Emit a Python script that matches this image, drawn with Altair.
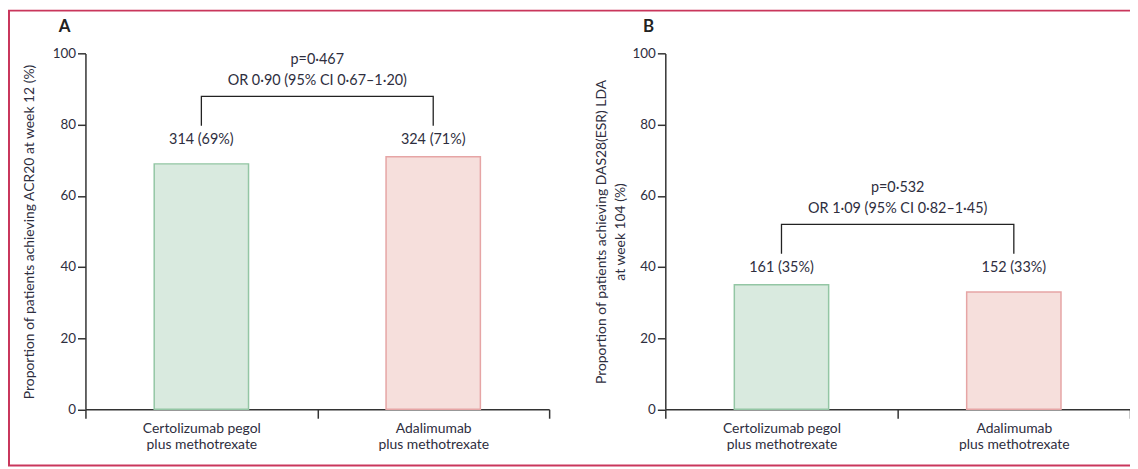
import altair as alt
import pandas as pd

# ---------------- data ----------------
categories = ["Certolizumab pegol\nplus methotrexate", "Adalimumab\nplus methotrexate"]
a_values = [69, 71]
b_values = [35, 33]
a_labels = ["314 (69%)", "324 (71%)"]
b_labels = ["161 (35%)", "152 (33%)"]
a_stats = ["p=0·467", "OR 0·90 (95% CI 0·67–1·20)"]
b_stats = ["p=0·532", "OR 1·09 (95% CI 0·82–1·45)"]
y_ticks = [0, 20, 40, 60, 80, 100]
a_title = "Proportion of patients achieving ACR20 at week 12 (%)"
b_title = ["Proportion of patients achieving DAS28(ESR) LDA", "at week 104 (%)"]

# ---------------- style ----------------
FONT = "Lato"
TXT = "#2e2e3e"
AX = "#333333"
FILLS = ["#d9eadf", "#f6dfdc"]
STROKES = ["#93c6a4", "#e6a5a5"]
BORDER = "#c9365c"
W, H = 1130, 461
Y_RANGE = [402.5, 44.3]
ANN_SIZE = 14.5


def make_panel(values, labels, stats, ytitle, x_range, title_x, letter, letter_x):
    top_leg = max(values) + 8.7
    top = top_leg + 8.3
    df = pd.DataFrame({"cat": categories, "value": values, "label": labels})
    df["ly"] = top_leg - 4.0
    br = pd.DataFrame({
        "cat": [categories[0], categories[0], categories[1], categories[1]],
        "value": [top_leg, top, top, top_leg],
        "o": [0, 1, 2, 3],
    })
    st = pd.DataFrame({"cat": [categories[1], categories[1]],
                       "value": [top + 10.3, top + 4.3],
                       "t": stats})

    xscale = alt.Scale(domain=categories, range=x_range, paddingInner=0, paddingOuter=0)
    yscale = alt.Scale(domain=[0, 100], range=Y_RANGE)
    xaxis = alt.Axis(orient="bottom", offset=-(H - Y_RANGE[0]), tickBand="extent",
                     tickSize=9, tickWidth=1.5, tickColor=AX, domainColor=AX, domainWidth=1.5,
                     labelExpr="split(datum.label, '\\n')", labelAngle=0,
                     labelFont=FONT, labelFontSize=14, labelColor=TXT, labelLineHeight=17,
                     labelPadding=3, title=None, grid=False)
    yaxis = alt.Axis(orient="left", offset=-(x_range[0]), values=y_ticks, tickSize=8,
                     tickWidth=1.5, tickColor=AX, domainColor=AX, domainWidth=1.5,
                     labelFont=FONT, labelFontSize=13.5, labelColor=TXT, labelPadding=2,
                     grid=False, title=ytitle, titleX=title_x, titleAngle=-90,
                     titleBaseline="middle", titleFont=FONT, titleFontSize=14,
                     titleFontWeight="normal", titleColor=TXT, titleLineHeight=19)

    def X(band=0.5):
        return alt.X("cat:N", scale=xscale, axis=xaxis, bandPosition=band, sort=categories)

    def Y(field="value"):
        return alt.Y(f"{field}:Q", scale=yscale, axis=yaxis)

    bars = alt.Chart(df).mark_bar(width=95, strokeWidth=1.5).encode(
        x=X(), y=Y(),
        fill=alt.Fill("cat:N", scale=alt.Scale(domain=categories, range=FILLS), legend=None),
        stroke=alt.Stroke("cat:N", scale=alt.Scale(domain=categories, range=STROKES), legend=None),
    )
    lab = alt.Chart(df).mark_text(font=FONT, fontSize=ANN_SIZE, color=TXT, baseline="middle").encode(
        x=X(), y=Y("ly"), text="label:N")
    bracket = alt.Chart(br).mark_line(color="#222222", strokeWidth=1.3).encode(
        x=X(), y=Y(), order="o:Q")
    stat = alt.Chart(st).mark_text(font=FONT, fontSize=ANN_SIZE, color=TXT, baseline="middle").encode(
        x=X(0), y=Y(), text="t:N")
    let = alt.Chart(pd.DataFrame({"t": [letter]})).mark_text(
        font=FONT, fontSize=17, fontWeight="bold", color="#222222", baseline="middle").encode(
        x=alt.value(letter_x), y=alt.value(18), text="t:N")
    return alt.layer(bars, lab, bracket, stat, let)


panelA = make_panel(a_values, a_labels, a_stats, a_title, [78, 545], -56, "A", 57)
panelB = make_panel(b_values, b_labels, b_stats, b_title, [662, 1130], -64, "B", 645)

# frame around the figure (its right side runs off the page, as in the source)
frame = alt.Chart(pd.DataFrame({"k": [0]})).mark_rect(
    fill=None, stroke=BORDER, strokeWidth=2).encode(
    x=alt.value(1), x2=alt.value(W + 20), y=alt.value(1), y2=alt.value(459))

chart = alt.layer(panelA, panelB, frame).resolve_scale(
    x="independent", y="independent", fill="independent", stroke="independent"
).properties(
    width=W, height=H, autosize=alt.AutoSizeParams(type="none"), padding=0,
    background="white"
).configure_view(stroke=None, strokeWidth=0)

chart.save("out.html", embed_options={"renderer": "svg", "actions": False})
